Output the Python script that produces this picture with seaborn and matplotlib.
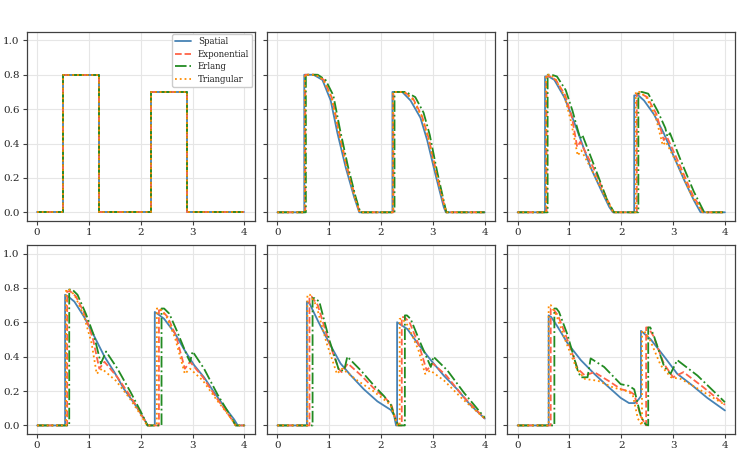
import matplotlib
matplotlib.use('agg')
import matplotlib.pyplot as plt
import seaborn as sns

# t = 0 : initial condition, same for all models
p1_x = [0, 0.5, 0.5, 1.2, 1.2, 2.2, 2.2, 2.9, 2.9, 4.0]
p1_y = [0, 0, 0.8, 0.8, 0, 0, 0.7, 0.7, 0, 0]

# panel 2
p2_spa_x = [0, 0.52, 0.52, 0.70, 0.87, 1.03, 1.16, 1.32, 1.48, 1.58, 2.22, 2.22, 2.41, 2.57, 2.76, 2.89, 3.05, 3.21, 3.25, 4.0]
p2_spa_y = [0, 0, 0.80, 0.80, 0.77, 0.65, 0.46, 0.26, 0.09, 0, 0, 0.70, 0.70, 0.65, 0.55, 0.42, 0.22, 0.03, 0, 0]
p2_exp_x = [0, 0.54, 0.54, 0.75, 0.90, 1.06, 1.19, 1.34, 1.50, 1.59, 2.24, 2.24, 2.45, 2.62, 2.79, 2.92, 3.07, 3.22, 3.26, 4.0]
p2_exp_y = [0, 0, 0.80, 0.80, 0.77, 0.66, 0.47, 0.27, 0.09, 0, 0, 0.70, 0.70, 0.66, 0.56, 0.43, 0.23, 0.04, 0, 0]
p2_erl_x = [0, 0.55, 0.55, 0.78, 0.93, 1.08, 1.21, 1.36, 1.51, 1.60, 2.26, 2.26, 2.48, 2.66, 2.82, 2.94, 3.08, 3.23, 3.26, 4.0]
p2_erl_y = [0, 0, 0.80, 0.80, 0.77, 0.68, 0.48, 0.27, 0.09, 0, 0, 0.70, 0.70, 0.67, 0.58, 0.45, 0.24, 0.04, 0, 0]
p2_tri_x = [0, 0.53, 0.53, 0.74, 0.89, 1.05, 1.18, 1.33, 1.49, 1.59, 2.23, 2.23, 2.44, 2.60, 2.78, 2.91, 3.06, 3.22, 3.26, 4.0]
p2_tri_y = [0, 0, 0.80, 0.80, 0.77, 0.66, 0.47, 0.27, 0.09, 0, 0, 0.70, 0.70, 0.66, 0.56, 0.43, 0.23, 0.04, 0, 0]

# panel 3
p3_spa_x = [0, 0.53, 0.53, 0.60, 0.71, 0.90, 1.06, 1.22, 1.41, 1.61, 1.77, 1.84, 2.25, 2.25, 2.33, 2.44, 2.63, 2.82, 3.02, 3.21, 3.40, 3.53, 4.0]
p3_spa_y = [0, 0, 0.79, 0.79, 0.77, 0.67, 0.55, 0.42, 0.26, 0.13, 0.03, 0, 0, 0.68, 0.68, 0.65, 0.57, 0.46, 0.32, 0.19, 0.07, 0, 0]
p3_exp_x = [0, 0.56, 0.56, 0.63, 0.74, 0.92, 1.05, 1.15, 1.21, 1.46, 1.72, 1.85, 2.30, 2.30, 2.38, 2.50, 2.68, 2.82, 2.88, 3.12, 3.38, 3.58, 4.0]
p3_exp_y = [0, 0, 0.79, 0.79, 0.77, 0.68, 0.55, 0.38, 0.41, 0.26, 0.08, 0, 0, 0.69, 0.69, 0.67, 0.57, 0.42, 0.44, 0.28, 0.10, 0, 0]
p3_erl_x = [0, 0.58, 0.58, 0.66, 0.76, 0.93, 1.06, 1.17, 1.21, 1.25, 1.48, 1.73, 1.86, 2.33, 2.33, 2.40, 2.52, 2.70, 2.85, 2.89, 2.94, 3.15, 3.40, 3.60, 4.0]
p3_erl_y = [0, 0, 0.80, 0.80, 0.79, 0.71, 0.59, 0.47, 0.43, 0.45, 0.27, 0.07, 0, 0, 0.70, 0.70, 0.69, 0.59, 0.49, 0.44, 0.46, 0.30, 0.12, 0, 0]
p3_tri_x = [0, 0.55, 0.55, 0.62, 0.72, 0.90, 1.03, 1.16, 1.23, 1.46, 1.72, 1.85, 2.28, 2.28, 2.36, 2.48, 2.66, 2.80, 2.86, 3.10, 3.37, 3.57, 4.0]
p3_tri_y = [0, 0, 0.80, 0.80, 0.78, 0.68, 0.53, 0.33, 0.36, 0.23, 0.07, 0, 0, 0.70, 0.70, 0.67, 0.56, 0.39, 0.41, 0.27, 0.09, 0, 0]

# panel 4
p4_spa_x = [0, 0.54, 0.54, 0.60, 0.72, 0.91, 1.10, 1.30, 1.49, 1.68, 1.87, 2.07, 2.13, 2.27, 2.27, 2.32, 2.45, 2.65, 2.84, 3.03, 3.22, 3.42, 3.61, 3.80, 3.87, 4.0]
p4_spa_y = [0, 0, 0.76, 0.75, 0.72, 0.63, 0.52, 0.40, 0.31, 0.21, 0.13, 0.035, 0, 0, 0.66, 0.65, 0.62, 0.54, 0.44, 0.35, 0.28, 0.19, 0.11, 0.035, 0, 0]
p4_exp_x = [0, 0.58, 0.58, 0.64, 0.75, 0.93, 1.08, 1.20, 1.30, 1.55, 1.80, 2.00, 2.13, 2.35, 2.35, 2.40, 2.52, 2.68, 2.85, 2.95, 3.20, 3.46, 3.72, 3.83, 4.0]
p4_exp_y = [0, 0, 0.78, 0.78, 0.75, 0.64, 0.50, 0.33, 0.37, 0.28, 0.17, 0.07, 0, 0, 0.67, 0.67, 0.63, 0.52, 0.33, 0.37, 0.28, 0.16, 0.05, 0, 0]
p4_erl_x = [0, 0.62, 0.62, 0.68, 0.78, 0.94, 1.10, 1.23, 1.33, 1.55, 1.81, 2.00, 2.13, 2.40, 2.40, 2.45, 2.55, 2.71, 2.90, 2.95, 3.00, 3.22, 3.48, 3.74, 3.83, 4.0]
p4_erl_y = [0, 0, 0.79, 0.79, 0.76, 0.65, 0.52, 0.36, 0.43, 0.33, 0.19, 0.08, 0, 0, 0.68, 0.68, 0.65, 0.54, 0.40, 0.37, 0.43, 0.33, 0.18, 0.05, 0, 0]
p4_tri_x = [0, 0.56, 0.56, 0.62, 0.72, 0.90, 1.05, 1.15, 1.25, 1.52, 1.78, 1.98, 2.12, 2.31, 2.31, 2.37, 2.50, 2.66, 2.85, 2.95, 3.20, 3.46, 3.72, 3.83, 4.0]
p4_tri_y = [0, 0, 0.79, 0.79, 0.76, 0.64, 0.48, 0.30, 0.33, 0.26, 0.16, 0.07, 0, 0, 0.68, 0.68, 0.63, 0.51, 0.30, 0.33, 0.26, 0.15, 0.05, 0, 0]

# panel 5
p5_spa_x = [0, 0.57, 0.57, 0.62, 0.78, 1.00, 1.22, 1.42, 1.67, 1.93, 2.19, 2.25, 2.29, 2.31, 2.31, 2.36, 2.51, 2.70, 2.96, 3.21, 3.47, 3.72, 4.0]
p5_spa_y = [0, 0, 0.72, 0.71, 0.61, 0.48, 0.36, 0.29, 0.21, 0.14, 0.09, 0.06, 0, 0, 0.60, 0.59, 0.56, 0.48, 0.38, 0.29, 0.21, 0.12, 0.04]
p5_exp_x = [0, 0.62, 0.62, 0.66, 0.78, 0.98, 1.18, 1.24, 1.36, 1.62, 1.88, 2.08, 2.20, 2.28, 2.34, 2.40, 2.40, 2.45, 2.55, 2.74, 2.88, 3.00, 3.26, 3.58, 4.0]
p5_exp_y = [0, 0, 0.75, 0.75, 0.70, 0.50, 0.33, 0.31, 0.36, 0.29, 0.21, 0.16, 0.12, 0.04, 0, 0, 0.63, 0.63, 0.60, 0.46, 0.32, 0.36, 0.29, 0.17, 0.04]
p5_erl_x = [0, 0.68, 0.68, 0.72, 0.81, 1.00, 1.19, 1.29, 1.35, 1.61, 1.87, 2.06, 2.19, 2.26, 2.33, 2.46, 2.46, 2.50, 2.57, 2.76, 2.96, 3.01, 3.28, 3.60, 4.0]
p5_erl_y = [0, 0, 0.74, 0.74, 0.72, 0.50, 0.32, 0.32, 0.40, 0.32, 0.23, 0.17, 0.12, 0.05, 0, 0, 0.64, 0.64, 0.62, 0.48, 0.34, 0.40, 0.32, 0.19, 0.045]
p5_tri_x = [0, 0.58, 0.58, 0.63, 0.75, 0.95, 1.15, 1.25, 1.55, 1.85, 2.06, 2.18, 2.27, 2.32, 2.36, 2.36, 2.41, 2.52, 2.72, 2.85, 2.95, 3.22, 3.55, 4.0]
p5_tri_y = [0, 0, 0.76, 0.76, 0.70, 0.48, 0.30, 0.33, 0.26, 0.20, 0.15, 0.12, 0.04, 0, 0, 0.62, 0.62, 0.58, 0.44, 0.30, 0.32, 0.26, 0.16, 0.04]

# panel 6
p6_spa_x = [0, 0.60, 0.60, 0.65, 0.77, 0.96, 1.22, 1.48, 1.73, 1.99, 2.15, 2.26, 2.33, 2.38, 2.38, 2.42, 2.57, 2.83, 3.08, 3.34, 3.66, 4.0]
p6_spa_y = [0, 0, 0.64, 0.63, 0.575, 0.48, 0.38, 0.30, 0.23, 0.16, 0.13, 0.13, 0.15, 0.17, 0.55, 0.54, 0.50, 0.40, 0.30, 0.24, 0.16, 0.087]
p6_exp_x = [0, 0.64, 0.64, 0.68, 0.78, 0.96, 1.16, 1.30, 1.48, 1.75, 2.00, 2.15, 2.25, 2.38, 2.46, 2.48, 2.48, 2.52, 2.62, 2.82, 3.00, 3.20, 3.55, 4.0]
p6_exp_y = [0, 0, 0.68, 0.68, 0.64, 0.50, 0.33, 0.29, 0.31, 0.26, 0.21, 0.20, 0.18, 0.05, 0.01, 0, 0.57, 0.57, 0.52, 0.36, 0.28, 0.31, 0.23, 0.12]
p6_erl_x = [0, 0.71, 0.71, 0.75, 0.80, 0.96, 1.16, 1.22, 1.35, 1.41, 1.67, 1.99, 2.15, 2.25, 2.38, 2.47, 2.52, 2.52, 2.56, 2.63, 2.83, 2.95, 3.08, 3.47, 4.0]
p6_erl_y = [0, 0, 0.68, 0.68, 0.66, 0.53, 0.32, 0.28, 0.28, 0.39, 0.34, 0.24, 0.23, 0.21, 0.05, 0.006, 0, 0.57, 0.57, 0.52, 0.34, 0.30, 0.38, 0.29, 0.135]
p6_tri_x = [0, 0.60, 0.60, 0.64, 0.75, 0.94, 1.14, 1.30, 1.55, 1.85, 2.10, 2.22, 2.32, 2.40, 2.40, 2.44, 2.55, 2.76, 2.96, 3.15, 3.50, 4.0]
p6_tri_y = [0, 0, 0.70, 0.70, 0.64, 0.48, 0.33, 0.27, 0.26, 0.22, 0.20, 0.18, 0.04, 0, 0.55, 0.55, 0.50, 0.35, 0.28, 0.27, 0.21, 0.12]

names = ['Spatial', 'Exponential', 'Erlang', 'Triangular']
colors = ['#4682b4', '#ff6347', '#228b22', '#ff8c00']
styles = ['-', '--', '-.', ':']

panels = [
    [(p1_x, p1_y), (p1_x, p1_y), (p1_x, p1_y), (p1_x, p1_y)],
    [(p2_spa_x, p2_spa_y), (p2_exp_x, p2_exp_y), (p2_erl_x, p2_erl_y), (p2_tri_x, p2_tri_y)],
    [(p3_spa_x, p3_spa_y), (p3_exp_x, p3_exp_y), (p3_erl_x, p3_erl_y), (p3_tri_x, p3_tri_y)],
    [(p4_spa_x, p4_spa_y), (p4_exp_x, p4_exp_y), (p4_erl_x, p4_erl_y), (p4_tri_x, p4_tri_y)],
    [(p5_spa_x, p5_spa_y), (p5_exp_x, p5_exp_y), (p5_erl_x, p5_erl_y), (p5_tri_x, p5_tri_y)],
    [(p6_spa_x, p6_spa_y), (p6_exp_x, p6_exp_y), (p6_erl_x, p6_erl_y), (p6_tri_x, p6_tri_y)],
]

sns.set_style('whitegrid', {'axes.edgecolor': '0.25', 'grid.color': '0.9',
                            'xtick.bottom': True, 'ytick.left': True})
plt.rcParams['font.family'] = ['DejaVu Serif']
plt.rcParams['font.size'] = 7.5

fig, axes = plt.subplots(2, 3, figsize=(7.42, 4.54), dpi=100, sharey=True)
fig.subplots_adjust(left=0.036, right=0.991, top=0.93, bottom=0.044,
                    wspace=0.053, hspace=0.127)

for i, (ax, panel) in enumerate(zip(axes.flat, panels)):
    for (xs, ys), name, c, ls in zip(panel, names, colors, styles):
        sns.lineplot(x=xs, y=ys, ax=ax, estimator=None, sort=False, color=c,
                     linestyle=ls, linewidth=1.3,
                     label=name if i == 0 else None, legend=False)
    ax.set_ylim(-0.05, 1.05)
    ax.set_xticks([0, 1, 2, 3, 4])
    ax.set_yticks([0.0, 0.2, 0.4, 0.6, 0.8, 1.0])
    ax.tick_params(length=3, width=0.8, color='0.25', labelsize=7.5, pad=2)
    for s in ax.spines.values():
        s.set_linewidth(0.9)
    if i == 0:
        ax.legend(loc='upper right', fontsize=6.2, handlelength=1.8,
                  borderpad=0.35, labelspacing=0.4, framealpha=1.0,
                  borderaxespad=0.3)

plt.savefig('out.png', dpi=100)
